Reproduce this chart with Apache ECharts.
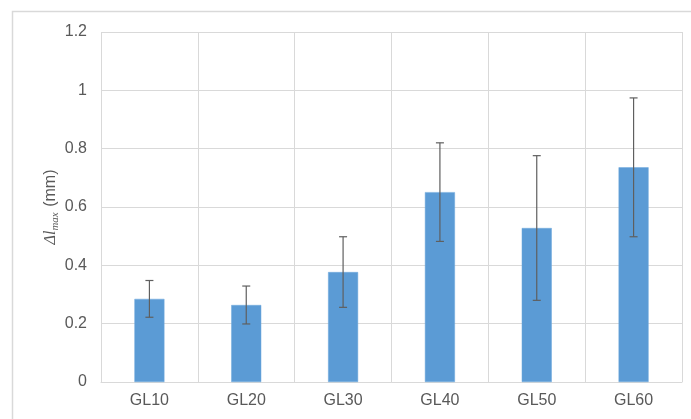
<!DOCTYPE html>
<html>
<head>
<meta charset="utf-8">
<script src="https://cdn.jsdelivr.net/npm/echarts@6/dist/echarts.min.js"></script>
<style>
  html, body { margin: 0; padding: 0; background: #ffffff; }
  #chart { width: 691px; height: 419px; }
</style>
</head>
<body>
<div id="chart"></div>
<script>
// Specimen groups and the mean maximum displacement (mm) with its spread
var categories = ['GL10', 'GL20', 'GL30', 'GL40', 'GL50', 'GL60'];
var meanValues = [0.285, 0.264, 0.377, 0.651, 0.528, 0.736];
var errorValues = [0.063, 0.065, 0.121, 0.169, 0.248, 0.238];
var yTicks = [0, 0.2, 0.4, 0.6, 0.8, 1, 1.2];

var textColor = '#595959';
var gridColor = '#d9d9d9';
var fontFamily = '"Liberation Sans", Arial, sans-serif';

var chart = echarts.init(document.getElementById('chart'), null, { renderer: 'canvas' });

// whisker data: [category index, low, high]
var errorData = categories.map(function (c, i) {
  return [i, meanValues[i] - errorValues[i], meanValues[i] + errorValues[i]];
});

chart.setOption({
  animation: false,
  backgroundColor: '#ffffff',
  graphic: [{
    type: 'rect',
    shape: { x: 12.5, y: 11.5, width: 700, height: 420 },
    style: { fill: 'none', stroke: gridColor, lineWidth: 1.5 },
    silent: true,
    z: 0
  }],
  grid: { left: 101, top: 32, right: 9, bottom: 37 },
  xAxis: {
    type: 'category',
    data: categories,
    boundaryGap: true,
    axisLine: { show: true, lineStyle: { color: gridColor, width: 1 } },
    axisTick: { show: false },
    splitLine: { show: true, lineStyle: { color: gridColor, width: 1 } },
    axisLabel: { color: textColor, fontSize: 16, fontFamily: fontFamily, margin: 11 }
  },
  yAxis: {
    type: 'value',
    min: yTicks[0],
    max: yTicks[yTicks.length - 1],
    interval: 0.2,
    axisLine: { show: false },
    axisTick: { show: false },
    splitLine: { show: true, lineStyle: { color: gridColor, width: 1 } },
    axisLabel: {
      color: textColor, fontSize: 16, fontFamily: fontFamily, margin: 14,
      formatter: function (v) { return String(Math.round(v * 10) / 10); }
    },
    name: '{sym|Δl}{sub|max}{unit| (mm)}',
    nameLocation: 'middle',
    nameRotate: 90,
    nameGap: 40,
    nameMoveOverlap: false,
    nameTextStyle: {
      color: textColor,
      rich: {
        sym: { fontFamily: '"Liberation Serif", "Times New Roman", serif', fontStyle: 'italic', fontSize: 16, color: textColor, lineHeight: 20, verticalAlign: 'middle' },
        sub: { fontFamily: '"Liberation Serif", "Times New Roman", serif', fontStyle: 'italic', fontSize: 11, color: textColor, lineHeight: 20, verticalAlign: 'bottom', padding: [6, 1, 0, 0] },
        unit: { fontFamily: fontFamily, fontSize: 16, color: textColor, lineHeight: 20, verticalAlign: 'middle' }
      }
    }
  },
  series: [{
    type: 'bar',
    data: meanValues,
    barWidth: '31%',
    itemStyle: { color: '#5b9bd5', borderColor: '#6fa8dc', borderWidth: 0.5 },
    z: 2
  }, {
    type: 'custom',
    data: errorData,
    z: 3,
    renderItem: function (params, api) {
      var x = api.value(0);
      var lo = api.coord([x, api.value(1)]);
      var hi = api.coord([x, api.value(2)]);
      var cap = 4;
      var style = { stroke: '#5f5f5f', lineWidth: 1.2, fill: null };
      return {
        type: 'group',
        children: [
          { type: 'line', shape: { x1: hi[0], y1: hi[1], x2: lo[0], y2: lo[1] }, style: style },
          { type: 'line', shape: { x1: hi[0] - cap, y1: hi[1], x2: hi[0] + cap, y2: hi[1] }, style: style },
          { type: 'line', shape: { x1: lo[0] - cap, y1: lo[1], x2: lo[0] + cap, y2: lo[1] }, style: style }
        ]
      };
    }
  }]
});
</script>
</body>
</html>
